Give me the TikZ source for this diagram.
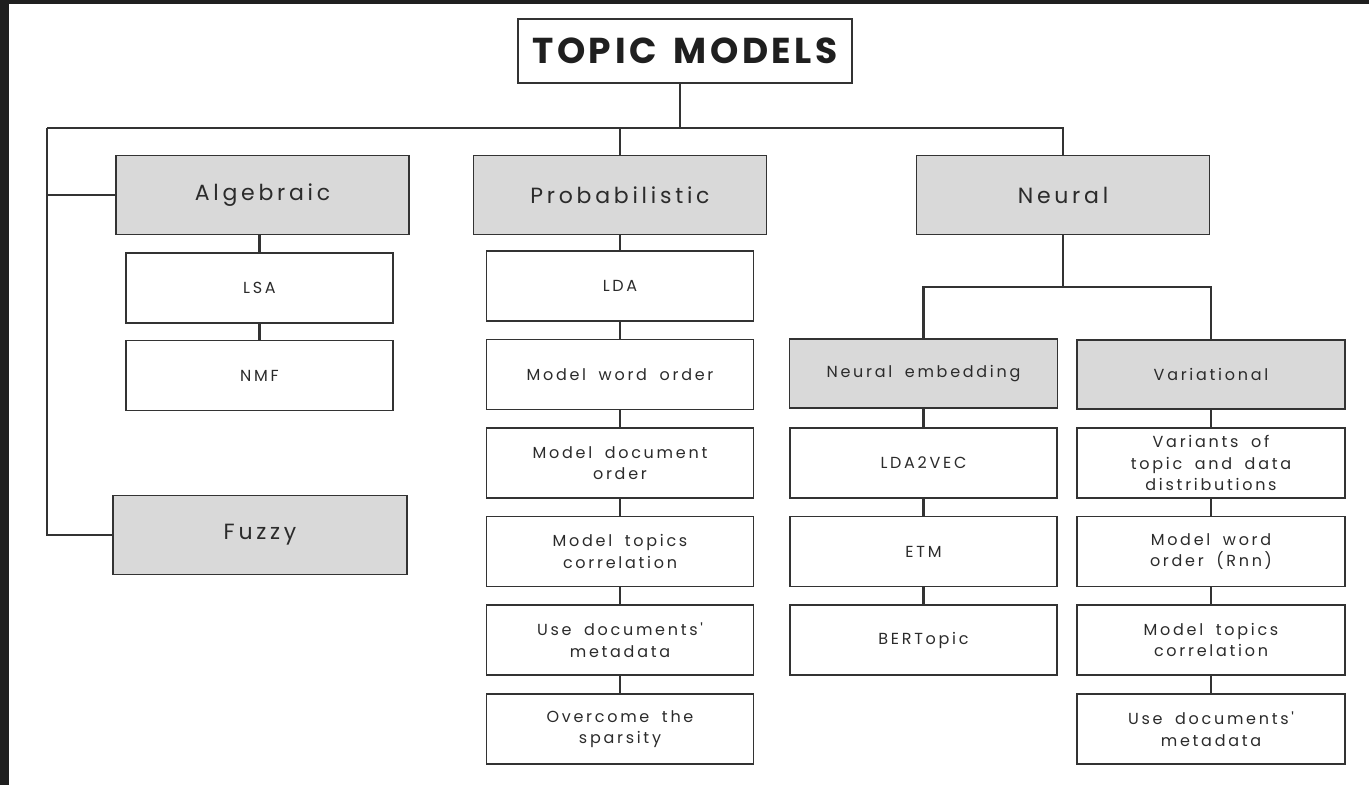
\documentclass[tikz,border=0pt]{standalone}
\usepackage{fontspec}
\setmainfont{Poppins}[Ligatures=TeXOff]
\newfontfamily\catfont{Poppins}[Ligatures=TeXOff, LetterSpace=17, WordSpace=1.5]
\newfontfamily\leaffont{Poppins}[Ligatures=TeXOff, LetterSpace=17, WordSpace=1.8]
\newfontfamily\rootfont{Poppins}[Ligatures=TeXOff, LetterSpace=10, WordSpace=1.5]
\begin{document}
\begin{tikzpicture}[x=1pt,y=-1pt,
  every node/.style={inner sep=0pt, outer sep=0pt},
  frame/.style={draw=boxline, line width=1.8pt, align=center, text=txt},
  catbox/.style={frame, fill=catfill, minimum width=293pt, minimum height=79pt,
    font=\catfont\fontsize{22}{27}\selectfont},
  subbox/.style={frame, fill=catfill, minimum width=268pt, minimum height=69pt,
    font=\leaffont\fontsize{16}{21.5}\selectfont},
  leaf/.style={frame, fill=white, minimum width=267pt, minimum height=70pt,
    font=\leaffont\fontsize{16}{21.5}\selectfont},
  conn/.style={draw=boxline, line width=2.4pt}]
\definecolor{boxline}{HTML}{333333}
\definecolor{catfill}{HTML}{D9D9D9}
\definecolor{txt}{HTML}{2B2B2B}
\definecolor{edge}{HTML}{1F1F1F}

% canvas with its dark top and left edges
\useasboundingbox (0,0) rectangle (1369,785);
\fill[white] (0,0) rectangle (1369,785);
\fill[edge] (0,0) rectangle (1369,4);
\fill[edge] (0,0) rectangle (9,785);

% root
\node[frame, fill=white, minimum width=334pt, minimum height=64pt,
  font=\rootfont\fontsize{36}{42}\selectfont\bfseries, text=edge]
  (title) at (685,51) {TOPIC MODELS};

% top-level families
\node[catbox] (alg)    at (262.5,195) {Algebraic};
\node[catbox] (prob)   at (620,195)   {Probabilistic};
\node[catbox] (neural) at (1063,195)  {Neural};
\node[catbox, minimum width=294pt] (fuzzy) at (260,535) {Fuzzy};

% algebraic methods
\node[leaf] (lsa) at (259.5,288)   {LSA};
\node[leaf] (nmf) at (259.5,375.5) {NMF};

% probabilistic methods
\node[leaf] (lda) at (620,286)   {LDA};
\node[leaf] (mwo) at (620,374.5) {Model word order};
\node[leaf] (mdo) at (620,463)   {Model document\\order};
\node[leaf] (mtc) at (620,551.5) {Model topics\\correlation};
\node[leaf] (udm) at (620,640)   {Use documents'\\metadata};
\node[leaf] (ots) at (620,729)   {Overcome the\\sparsity};

% neural sub-families
\node[subbox] (nemb) at (923.5,373.5) {Neural embedding};
\node[subbox] (var)  at (1211,374.5)  {Variational};

\node[leaf] (l2v) at (923.5,463)   {LDA2VEC};
\node[leaf] (etm) at (923.5,551.5) {ETM};
\node[leaf] (bert) at (923.5,640)  {BERTopic};

\node[leaf, minimum width=268pt] (vdist) at (1211,463)   {Variants of\\topic and data\\distributions};
\node[leaf, minimum width=268pt] (vrnn)  at (1211,551.5) {Model word\\order (Rnn)};
\node[leaf, minimum width=268pt] (vmtc)  at (1211,640)   {Model topics\\correlation};
\node[leaf, minimum width=268pt] (vudm)  at (1211,729)   {Use documents'\\metadata};

% bus under the root
\coordinate (busL) at (47,128);
\coordinate (stem) at (680,128);
\coordinate (busR) at (neural.north |- busL);
\coordinate (split) at (1063,287);

\draw[conn] (stem |- title.south) -- (stem);
\draw[conn] (busL) -- (busR) -- (neural.north);
\draw[conn] (prob.north |- busL) -- (prob.north);
\draw[conn] (busL) |- (fuzzy.west);
\draw[conn] (busL |- alg.west) -- (alg.west);

% chains below each family
\draw[conn] (lsa.north |- alg.south) -- (lsa.north);
\draw[conn] (lsa.south) -- (nmf.north);

\draw[conn] (prob.south) -- (lda.north);
\draw[conn] (lda.south) -- (mwo.north);
\draw[conn] (mwo.south) -- (mdo.north);
\draw[conn] (mdo.south) -- (mtc.north);
\draw[conn] (mtc.south) -- (udm.north);
\draw[conn] (udm.south) -- (ots.north);

\draw[conn] (neural.south) -- (split);
\draw[conn] (nemb.north) |- (split) -| (var.north);

\draw[conn] (nemb.south) -- (l2v.north);
\draw[conn] (l2v.south) -- (etm.north);
\draw[conn] (etm.south) -- (bert.north);

\draw[conn] (var.south) -- (vdist.north);
\draw[conn] (vdist.south) -- (vrnn.north);
\draw[conn] (vrnn.south) -- (vmtc.north);
\draw[conn] (vmtc.south) -- (vudm.north);
\end{tikzpicture}
\end{document}
